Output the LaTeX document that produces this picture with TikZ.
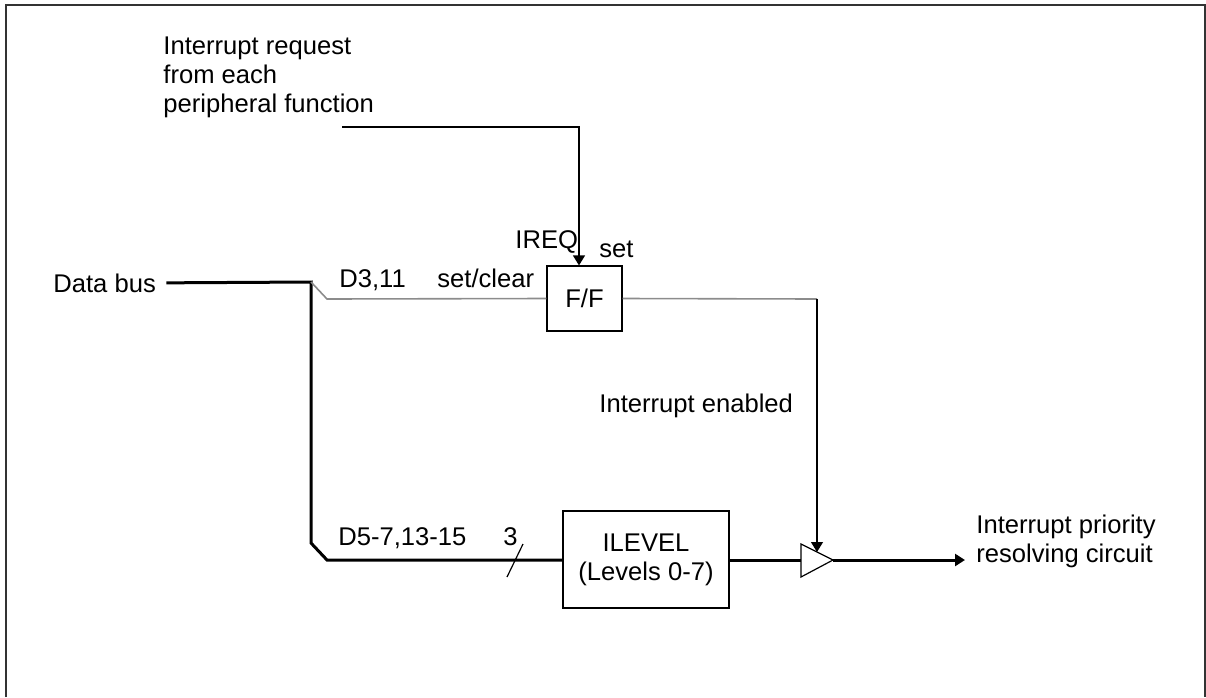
\documentclass[tikz,border=0pt]{standalone}
\usepackage{fontspec}
\setmainfont{Liberation Sans}
\usetikzlibrary{arrows.meta}

\begin{document}
\begin{tikzpicture}[x=0.5pt, y=-0.5pt, >={Triangle[length=5pt, width=6pt]},
  lbl/.style={inner sep=0pt, align=left, font=\fontsize{12.8}{14.5}\selectfont},
  box/.style={draw, line width=0.6pt, inner sep=0pt, align=center, font=\fontsize{12.8}{14.5}\selectfont},
  bus/.style={line width=1.5pt},
  wire/.style={line width=0.6pt},
  ctrl/.style={line width=0.8pt, draw=black!45},
  frame/.style={line width=1pt, draw=black!80}
]
\useasboundingbox (0,0) rectangle (1206,697);
\draw[frame] (6,697) -- (6,5) -- (1205,5) -- (1205,697);

% blocks
\node[box, minimum width=37.5pt, minimum height=32.5pt] (ff) at (584.5,298.5) {F/F};
\node[box, minimum width=83pt, minimum height=48.5pt] (ilevel) at (646,559.5) {ILEVEL\\(Levels 0-7)};

% labels
\node[lbl, anchor=base west] (databus) at (53,292) {Data bus};
\node[lbl, anchor=base west] (req) at (163,112) {Interrupt request\\from each\\peripheral function};
\node[lbl, anchor=base west] (dsc) at (339,287) {D3,11};
\node[lbl, anchor=base west] (setclr) at (437,287) {set/clear};
\node[lbl, anchor=base west] (ireq) at (515,248) {IREQ};
\node[lbl, anchor=base west] (set) at (599,257) {set};
\node[lbl, anchor=base west] (enabled) at (599,412) {Interrupt enabled};
\node[lbl, anchor=base west] (dlev) at (338,545) {D5-7,13-15};
\node[lbl, anchor=base west] (width) at (503,545) {3};
\node[lbl, anchor=base west] (prio) at (976,562) {Interrupt priority\\resolving circuit};

% corners
\coordinate (split) at (311,282);
\coordinate (bend1) at (311,543);
\coordinate (bend2) at (327,560);
\coordinate (tap) at (327,299);
\coordinate (reqin) at (342,127);
\coordinate (reqturn) at (579,127);
\coordinate (enturn) at (817,299);
\coordinate (buftop) at (817,552);
\coordinate (bufin) at (801,560);
\coordinate (bufapex) at (833,560);
\coordinate (out) at (965,560);

% buffer
\draw[wire] (801,544) -- (bufapex) -- (801,577) -- cycle;

% connections
\draw[bus] ([xshift=5pt]databus.east) -- (split) -- (bend1) -- (bend2) -- (bend2 -| ilevel.west);
\draw[ctrl] (split) -- (tap) -- (ff.west);
\draw[wire, ->] (reqin) -- (reqturn) -- (reqturn |- ff.north);
\draw[ctrl] (ff.east) -- (enturn);
\draw[wire, ->] (enturn) -- (buftop);
\draw[bus] (bufin -| ilevel.east) -- (bufin);
\draw[bus, ->] (bufapex) -- (out);
\draw[wire] (507,577) -- (523,544);
\end{tikzpicture}
\end{document}
